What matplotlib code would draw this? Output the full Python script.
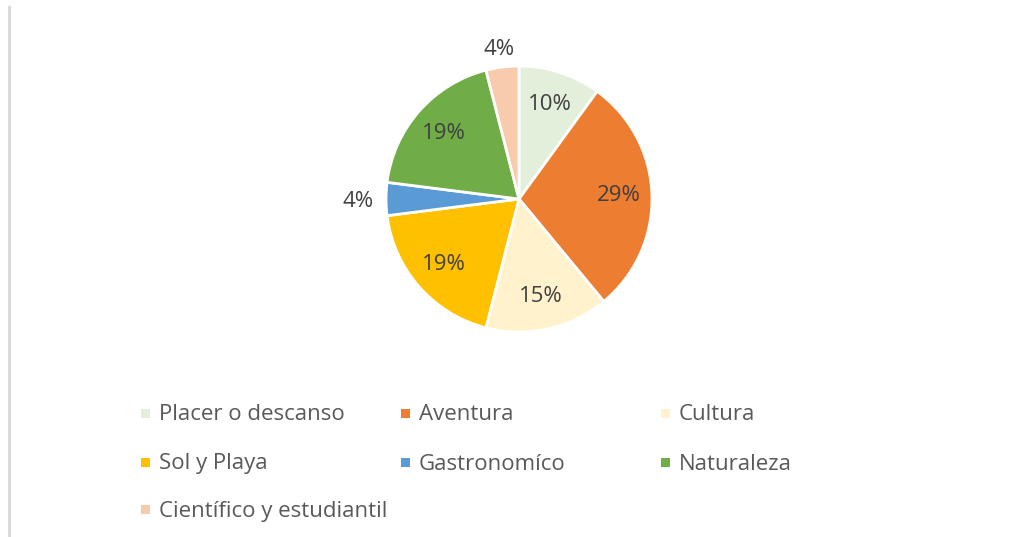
import matplotlib
matplotlib.use('Agg')
import matplotlib.pyplot as plt
import numpy as np
from matplotlib.lines import Line2D
from matplotlib.patches import Rectangle

# ================================== data ====================================

categories = ['Placer o descanso', 'Aventura', 'Cultura', 'Sol y Playa',
              'Gastronomíco', 'Naturaleza', 'Científico y estudiantil']
shares = [10, 29, 15, 19, 4, 19, 4]
colors = ['#E2EFDA', '#ED7D31', '#FFF2CC', '#FFC000',
          '#5B9BD5', '#70AD47', '#F8CBAD']

# ================================= figure ===================================

W, H = 1018, 537
plt.rcParams['font.family'] = ['Open Sans', 'DejaVu Sans']
fig = plt.figure(figsize=(W / 100, H / 100), dpi=100)
fig.patch.set_facecolor('white')

# grey frame line on the left edge
fig.add_artist(Line2D([8.5 / W, 8.5 / W], [0, 1 - 7 / H], transform=fig.transFigure,
                      color='#d9d9d9', linewidth=2.2))

cx, cy, r = 519, 199, 133
ax = fig.add_axes([(cx - r) / W, (H - cy - r) / H, 2 * r / W, 2 * r / H])
wedges, _, autotexts = ax.pie(shares, colors=colors, startangle=90, counterclock=False,
                              autopct='%1.0f%%', pctdistance=0.75,
                              wedgeprops=dict(edgecolor='white', linewidth=2),
                              textprops=dict(color='#404040', fontsize=16))
ax.set_xlim(-1, 1)
ax.set_ylim(-1, 1)

# small slices get their label outside
for w, t, v in zip(wedges, autotexts, shares):
    if v < 5:
        ang = np.deg2rad((w.theta1 + w.theta2) / 2)
        t.set_position((1.21 * np.cos(ang), 1.15 * np.sin(ang) - 0.02))

# ================================= legend ===================================

col_x = [145, 405, 665]
row_y = [413, 462, 509]
for i, (lab, c) in enumerate(zip(categories, colors)):
    x = col_x[i % 3]
    y = row_y[i // 3]
    fig.add_artist(Rectangle(((x - 4.5) / W, (H - y - 4.5) / H), 9 / W, 9 / H,
                             transform=fig.transFigure, facecolor=c, edgecolor='none'))
    fig.text((x + 14) / W, (H - y - 2) / H, lab, color='#595959', fontsize=16,
             va='center', ha='left')

fig.savefig('out.png', dpi=100, facecolor='white')
